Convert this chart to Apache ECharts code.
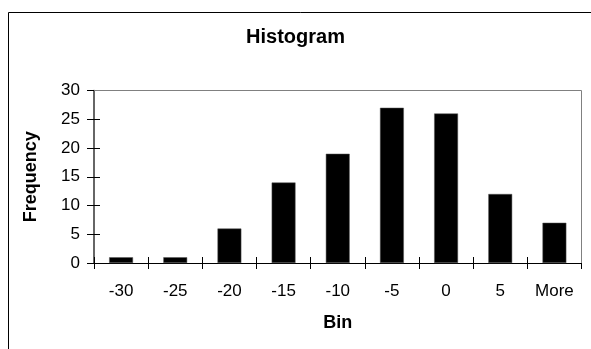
<html lang="en">
<head>
  <meta charset="UTF-8">
  <title>Histogram</title>
  <style>
    body { margin: 0; padding: 0; background: #fff; }
    #chart { width: 591px; height: 349px; }
  </style>
  <script src="https://cdn.jsdelivr.net/npm/echarts@6/dist/echarts.min.js"></script>
</head>
<body>
  <div id="chart"></div>
  <script>
    let bins = ['-30', '-25', '-20', '-15', '-10', '-5', '0', '5', 'More'];
    let frequency = [1, 1, 6, 14, 19, 27, 26, 12, 7];
    let yTicks = [0, 5, 10, 15, 20, 25, 30];

    let myChart = echarts.init(document.getElementById('chart'));

    let font = 'Arial, "Liberation Sans", sans-serif';

    let option = {
      animation: false,
      textStyle: { fontFamily: font },
      title: {
        text: 'Histogram',
        left: 'center',
        top: 22,
        textStyle: { fontSize: 20, fontWeight: 'bold', color: '#000', fontFamily: font }
      },
      graphic: [
        {
          type: 'rect',
          shape: { x: 8.5, y: 12.5, width: 600, height: 400 },
          style: { fill: 'none', stroke: '#000', lineWidth: 1 },
          silent: true
        },
        {
          // plot area border (top and right, grey)
          type: 'polyline',
          shape: { points: [[94, 90.5], [581.5, 90.5], [581.5, 263]] },
          style: { stroke: '#808080', lineWidth: 1, fill: 'none' },
          silent: true,
          z: 1
        }
      ],
      grid: {
        left: 94,
        right: 9.5,
        top: 90.5,
        bottom: 86
      },
      xAxis: [
        {
          type: 'category',
          data: bins,
          name: 'Bin',
          nameLocation: 'middle',
          nameGap: 51,
          nameTextStyle: { fontSize: 18, fontWeight: 'bold', color: '#000', fontFamily: font },
          axisLine: { lineStyle: { color: '#000', width: 1 } },
          axisTick: { show: true, inside: false, length: 6, lineStyle: { color: '#000' } },
          axisLabel: { color: '#000', fontSize: 17, margin: 20, fontFamily: font },
          splitLine: { show: false }
        },
        {
          // second copy of the axis: inside half of the crossing ticks
          type: 'category',
          data: bins,
          position: 'bottom',
          axisLine: { show: false },
          axisTick: { show: true, inside: true, length: 6, lineStyle: { color: '#000' } },
          axisLabel: { show: false },
          splitLine: { show: false }
        }
      ],
      yAxis: [
        {
          type: 'value',
          min: 0,
          max: 30,
          interval: 5,
          name: 'Frequency',
          nameLocation: 'middle',
          nameGap: 54,
          nameRotate: 90,
          nameTextStyle: { fontSize: 18, fontWeight: 'bold', color: '#000', fontFamily: font },
          axisLine: { show: true, lineStyle: { color: '#333', width: 1.5 } },
          axisTick: { show: true, length: 7, lineStyle: { color: '#000' } },
          axisLabel: {
            color: '#000', fontSize: 17, margin: 14, fontFamily: font,
            formatter: function (v) { return yTicks.indexOf(v) >= 0 ? String(v) : ''; }
          },
          splitLine: { show: false }
        },
        {
          type: 'value',
          min: 0,
          max: 30,
          interval: 5,
          position: 'left',
          axisLine: { show: false },
          axisTick: { show: true, inside: true, length: 6, lineStyle: { color: '#000' } },
          axisLabel: { show: false },
          splitLine: { show: false }
        }
      ],
      series: [
        {
          type: 'bar',
          data: frequency,
          barWidth: '44%',
          itemStyle: { color: '#000', borderColor: '#555', borderWidth: 0.5 }
        }
      ]
    };

    myChart.setOption(option);
  </script>
</body>
</html>
